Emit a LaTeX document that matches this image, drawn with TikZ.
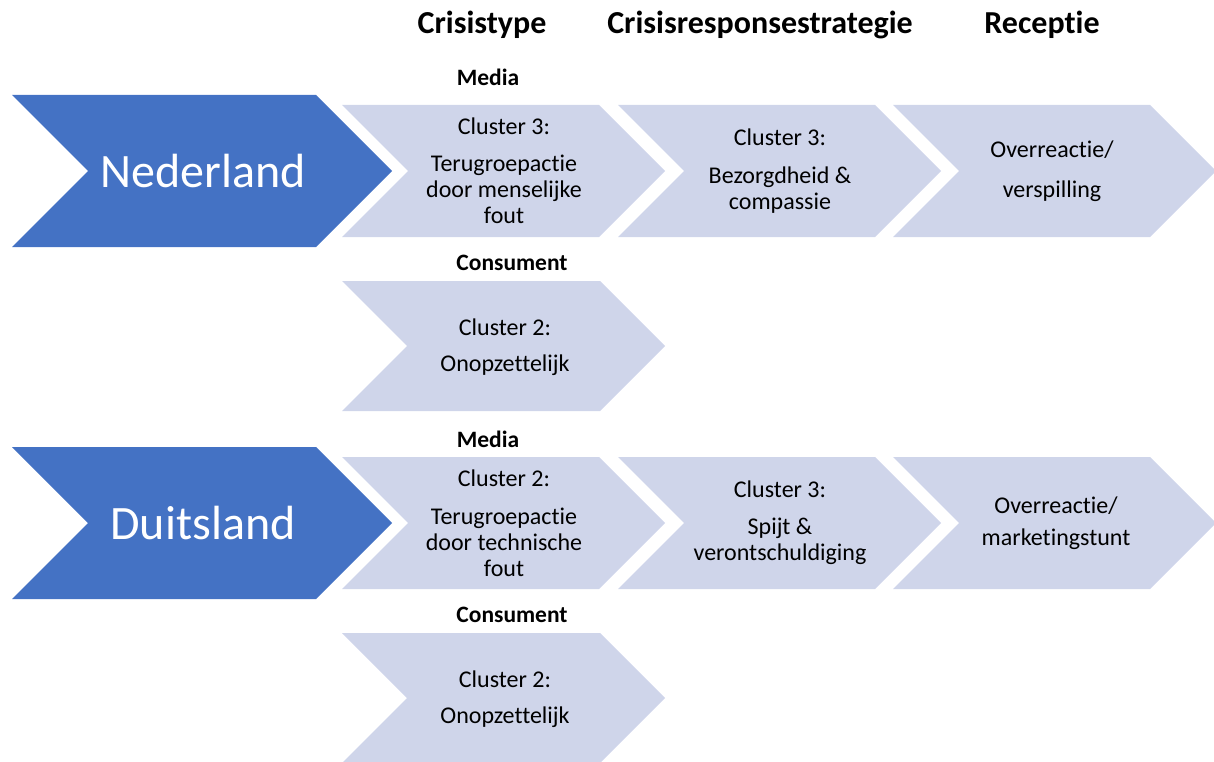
\documentclass[tikz,border=0pt]{standalone}
\usepackage{fontspec}
\setmainfont{Carlito}[Ligatures={NoCommon,NoContextual}]
\usetikzlibrary{positioning}
\definecolor{landblue}{HTML}{4472C4}
\definecolor{steplight}{HTML}{CFD5EA}

% chevron: left, top, length, half height, colour
\newcommand{\chevron}[5]{%
  \fill[#5] (#1,#2) -- ({#1+#3-#4},#2) -- ({#1+#3},{#2+#4}) -- ({#1+#3-#4},{#2+2*#4})
    -- (#1,{#2+2*#4}) -- ({#1+#4},{#2+#4}) -- cycle;}

\begin{document}
\begin{tikzpicture}[x=1pt, y=-1pt,
  country/.style={text=white, inner sep=0pt, font=\fontsize{48}{57}\selectfont},
  steptext/.style={align=center, inner sep=0pt, font=\fontsize{24}{26}\selectfont},
  head/.style={inner sep=0pt, font=\fontsize{32}{38}\selectfont\bfseries},
  source/.style={inner sep=0pt, font=\fontsize{23.5}{27}\selectfont\bfseries}]
  \useasboundingbox (0,0) rectangle (1214,762);

  % column heads
  \node[head] (type) at (482,25) {Crisistype};
  \node[head] (strategy) at (760,25) {Crisisresponsestrategie};
  \node[head] (reception) at (1042,25) {Receptie};

  % Nederland
  \chevron{12}{95}{380}{76}{landblue}
  \chevron{342}{105}{323}{66}{steplight}
  \chevron{618}{105}{323}{66}{steplight}
  \chevron{893}{105}{323}{66}{steplight}
  \chevron{342}{281}{323}{65}{steplight}
  \node[country] (nl) at (203,171) {Nederland};
  \node[source] (nlmedia) at (488,77) {Media};
  \node[steptext] (nltype) at (504,171) {Cluster 3:\\[11pt]Terugroepactie\\door menselijke\\fout};
  \node[steptext] (nlstrategy) at (780,171) {Cluster 3:\\[12pt]Bezorgdheid \&\\compassie};
  \node[steptext] (nlreception) at (1052,171) {Overreactie/\\[14pt]verspilling};
  \node[source] (nlconsumer) at (512,263) {Consument};
  \node[steptext] (nlconstype) at (505,347) {Cluster 2:\\[10pt]Onopzettelijk};

  % Duitsland
  \chevron{12}{447}{380}{76}{landblue}
  \chevron{342}{457}{323}{66}{steplight}
  \chevron{618}{457}{323}{66}{steplight}
  \chevron{893}{457}{323}{66}{steplight}
  \chevron{342}{633}{323}{65}{steplight}
  \node[country] (de) at (203,523) {Duitsland};
  \node[source] (demedia) at (488,439) {Media};
  \node[steptext] (detype) at (504,523) {Cluster 2:\\[12pt]Terugroepactie\\door technische\\fout};
  \node[steptext] (destrategy) at (780,523) {Cluster 3:\\[11pt]Spijt \&\\verontschuldiging};
  \node[steptext] (dereception) at (1056,523) {Overreactie/\\[6pt]marketingstunt};
  \node[source] (deconsumer) at (512,615) {Consument};
  \node[steptext] (deconstype) at (505,699) {Cluster 2:\\[10pt]Onopzettelijk};
\end{tikzpicture}
\end{document}
